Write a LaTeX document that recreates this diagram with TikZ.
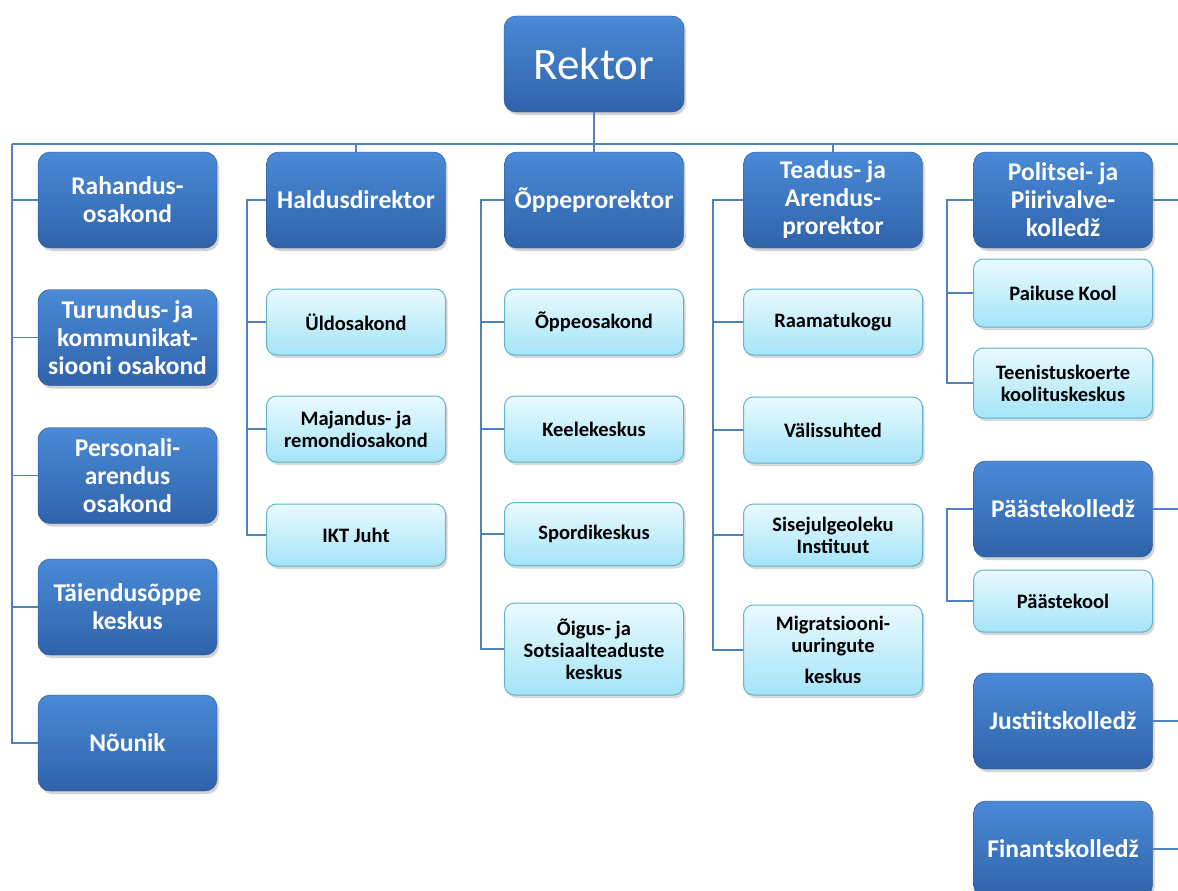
\documentclass[tikz,border=0pt]{standalone}
\usepackage{fontspec}
\setmainfont{Carlito}
\usetikzlibrary{shadows,calc}
\definecolor{linec}{HTML}{4F81BD}
\definecolor{dtop}{HTML}{4A8AD6}
\definecolor{dbot}{HTML}{2F63AA}
\definecolor{ltop}{HTML}{EAFAFE}
\definecolor{lbot}{HTML}{A4E4F8}
\definecolor{lborder}{HTML}{62B4CC}
\tikzset{
  darkbox/.style={rounded corners=12pt, top color=dtop, bottom color=dbot, draw=dbot!80!black, line width=0.4pt,
    text=white, font=\bfseries\fontsize{25.5}{28}\selectfont, align=center,
    minimum width=179pt, minimum height=96pt, inner sep=0pt,
    drop shadow={opacity=0.35, shadow xshift=2pt, shadow yshift=-3pt}},
  lightbox/.style={rounded corners=10pt, top color=ltop, bottom color=lbot, draw=lborder, line width=1pt,
    text=black, font=\bfseries\fontsize{20.5}{22}\selectfont, align=center,
    minimum width=179pt, minimum height=66pt, inner sep=0pt,
    drop shadow={opacity=0.3, shadow xshift=2pt, shadow yshift=-3pt}},
  conn/.style={draw=linec, line width=1.4pt}
}
\begin{document}
\begin{tikzpicture}[x=1pt,y=-1pt]
\clip (0,0) rectangle (1178,891);
\fill[white] (0,0) rectangle (1178,891);
% top
\node[darkbox, minimum width=180pt, font=\fontsize{45}{50}\selectfont] (rektor) at (594,64) {Rektor};
\coordinate (hl) at (12,144);
\coordinate (hr) at (1178,144);
% column 1
\node[darkbox] (rah) at (127.5,200) {Rahandus-\\osakond};
\node[darkbox] (tur) at (127.5,337.5) {Turundus- ja\\kommunikat-\\siooni osakond};
\node[darkbox] (per) at (127.5,475.5) {Personali-\\arendus\\osakond};
\node[darkbox] (tai) at (127.5,607) {Täiendusõppe\\keskus};
\node[darkbox] (nou) at (127.5,743) {Nõunik};
% column 2
\node[darkbox] (hal) at (356,200) {Haldusdirektor};
\node[lightbox] (uld) at (356,322) {Üldosakond};
\node[lightbox] (maj) at (356,429) {Majandus- ja\\remondiosakond};
\node[lightbox, minimum height=62pt] (ikt) at (356,535) {IKT Juht};
% column 3
\node[darkbox] (opp) at (594,200) {Õppeprorektor};
\node[lightbox] (oos) at (594,322) {Õppeosakond};
\node[lightbox] (kee) at (594,429) {Keelekeskus};
\node[lightbox, minimum height=63pt] (spo) at (594,534) {Spordikeskus};
\node[lightbox, minimum height=92pt] (oig) at (594,649) {Õigus- ja\\Sotsiaalteaduste\\keskus};
% column 4
\node[darkbox] (tea) at (833,200) {Teadus- ja\\Arendus-\\prorektor};
\node[lightbox] (raa) at (833,322) {Raamatukogu};
\node[lightbox] (val) at (833,430) {Välissuhted};
\node[lightbox, minimum height=62pt] (sis) at (833,535) {Sisejulgeoleku\\Instituut};
\node[lightbox, minimum height=90pt] (mig) at (833,650) {Migratsiooni-\\uuringute\\[9pt]keskus};
% column 5
\node[darkbox] (pol) at (1063,200) {Politsei- ja\\Piirivalve-\\kolledž};
\node[lightbox, minimum height=68pt] (pai) at (1063,293) {Paikuse Kool};
\node[lightbox, minimum height=70pt] (tee) at (1063,383) {Teenistuskoerte\\koolituskeskus};
\node[darkbox] (paek) at (1063,509) {Päästekolledž};
\node[lightbox, minimum height=62pt] (paes) at (1063,601) {Päästekool};
\node[darkbox] (jus) at (1063,721) {Justiitskolledž};
\node[darkbox] (fin) at (1063,849) {Finantskolledž};
% connectors
\draw[conn] (hl) -- (hr);
\draw[conn] (rektor.south) -- (opp.north);
\draw[conn] (hal.north) -- (hal.north |- hl);
\draw[conn] (tea.north) -- (tea.north |- hl);
\draw[conn] (hl) |- (nou.west);
\foreach \n in {rah,tur,per,tai} \draw[conn] (hl |- \n.west) -- (\n.west);
% col2
\draw[conn] (hal.west) -| (247,0 |- ikt.west) -- (ikt.west);
\foreach \n in {uld,maj} \draw[conn] (247,0 |- \n.west) -- (\n.west);
% col3
\draw[conn] (opp.west) -| (481,0 |- oig.west) -- (oig.west);
\foreach \n in {oos,kee,spo} \draw[conn] (481,0 |- \n.west) -- (\n.west);
% col4
\draw[conn] (tea.west) -| (713,0 |- mig.west) -- (mig.west);
\foreach \n in {raa,val,sis} \draw[conn] (713,0 |- \n.west) -- (\n.west);
% col5
\draw[conn] (pol.west) -| (947,0 |- tee.west) -- (tee.west);
\draw[conn] (947,0 |- pai.west) -- (pai.west);
\draw[conn] (paek.west) -| (947,0 |- paes.west) -- (paes.west);
\foreach \n in {pol,paek,jus,fin} \draw[conn] (\n.east) -- (1178,0 |- \n.east);
\end{tikzpicture}
\end{document}
